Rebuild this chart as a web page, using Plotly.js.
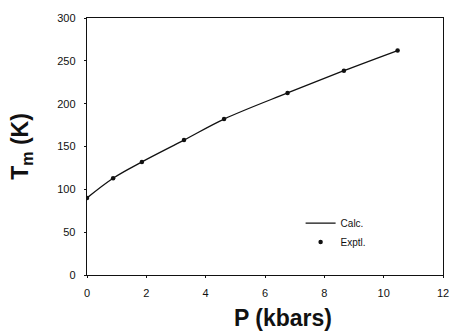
<!DOCTYPE html>
<html><head><meta charset="utf-8">
<script src="https://cdn.plot.ly/plotly-3.0.1.min.js"></script>
<style>html,body{margin:0;padding:0;background:#fff}#plot{width:452px;height:333px}</style>
</head><body><div id="plot"></div>
<script>
const pressure = [0, 0.88, 1.85, 3.27, 4.62, 6.76, 8.66, 10.47];
const tmExptl = [90, 113, 132, 157.5, 182, 212.5, 238.5, 262];
const tmCalc = [90, 113, 132, 157.5, 182, 212.5, 238.5, 262];
const xTicks = [0, 2, 4, 6, 8, 10, 12];
const yTicks = [0, 50, 100, 150, 200, 250, 300];
const xTitle = 'P (kbars)';

const traces = [
  {x: pressure, y: tmCalc, mode: 'lines', name: 'Calc.', line: {color: '#111', width: 1.3, shape: 'spline'}},
  {x: pressure, y: tmExptl, mode: 'markers', name: 'Exptl.', marker: {color: '#111', size: 4.5}}
];
const layout = {
  width: 452, height: 333,
  margin: {l: 87, r: 9, t: 18, b: 58},
  paper_bgcolor: '#fff', plot_bgcolor: '#fff',
  font: {family: 'Liberation Sans, Arial, sans-serif', color: '#111', size: 11},
  showlegend: true,
  legend: {x: 0.6, y: 0.165, xanchor: 'left', yanchor: 'middle', bgcolor: 'rgba(0,0,0,0)', font: {size: 10}, itemwidth: 20, tracegroupgap: 2},
  xaxis: {range: [0, 12], tickvals: xTicks, ticktext: xTicks.map(String), showgrid: false, zeroline: false,
    showline: true, linecolor: '#111', linewidth: 1.3, mirror: true, ticks: 'outside', ticklen: 2, tickcolor: '#111',
    ticklabelstandoff: 5},
  yaxis: {range: [0, 300], tickvals: yTicks, ticktext: yTicks.map(String), showgrid: false, zeroline: false,
    showline: true, linecolor: '#111', linewidth: 1.3, mirror: true, ticks: 'outside', ticklen: 2, tickcolor: '#111',
    ticklabelstandoff: 6,
    title: {text: '<b>T<sub>m</sub> (K)</b>', font: {size: 23}, standoff: 22}},
  annotations: [{text: '<b>' + xTitle + '</b>', xref: 'paper', yref: 'paper', x: 0.55, y: -0.167,
    xanchor: 'center', yanchor: 'middle', showarrow: false, font: {size: 23}}]
};
Plotly.newPlot('plot', traces, layout, {staticPlot: true});
</script></body></html>
